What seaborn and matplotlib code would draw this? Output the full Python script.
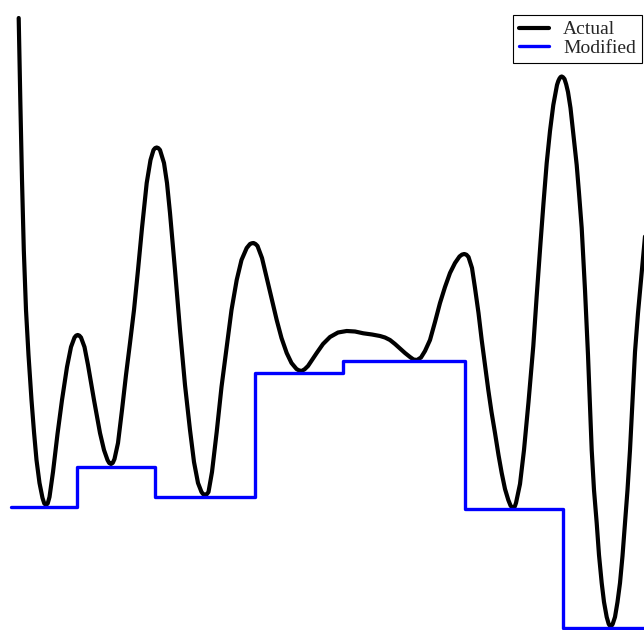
import matplotlib
matplotlib.use("Agg")
import matplotlib.pyplot as plt
import seaborn as sns

# Actual signal: sampled positions and values
x_actual = [
    18.7, 20.3, 22, 23.8, 26, 28.5, 31.5, 34, 36.5, 39.5, 42.5, 44.3, 46,
    47.7, 49.5, 53, 57.5, 62, 67, 71, 74.5, 76.1, 77.7,
    79.3, 81, 84.5, 88, 94, 100, 104, 107.5, 109.2, 111,
    112.8, 114.5, 118, 122, 126, 130, 134, 138, 142, 146.7, 150.5, 153.5,
    155.1, 156.7,
    158.3, 160, 164, 167, 170, 175, 180, 185, 190, 194, 198, 201.5, 203.2,
    205,
    206.8, 208.5, 212, 216.7, 221.5, 226.7, 231.5, 236.7, 241.5, 246.7, 250,
    251.7, 253.5,
    255.5, 257.5, 262, 266.7, 271.5, 276.7, 281.5, 286.7, 291.5, 296.5, 299,
    301.7,
    304.7, 308, 316.7, 323, 330, 338, 346.7, 355, 363.3, 372, 380, 385, 390,
    395, 400, 405, 410, 413.5, 417,
    421, 425, 430, 435, 440, 445, 450, 455, 459.5, 462, 464.3,
    466.4, 468.5, 472, 475, 478.5, 481.7, 485, 488.3, 491.5, 495, 498.5,
    501.7, 505, 508.3, 510.5, 511.9, 513.3,
    514.7, 516, 520, 524, 528.5, 533.3, 536.7, 540.5, 543.5, 546.7, 550,
    553.3, 557, 558.3, 559.5, 560.6, 561.7,
    563, 564.5, 566.2, 568, 570.5, 573, 576.7, 579, 581.7, 585, 588, 591.7,
    594, 596.7, 599, 601.7, 604, 606.7, 608.7, 609.7, 610.7,
    611.7, 612.7, 615, 617.5, 620, 622.5, 625, 627.5, 630, 632.5, 635, 638,
    641, 644, 648,
]
y_actual = [
    612, 530, 450, 380, 320, 275, 230, 198, 170, 147, 132, 126.5, 125,
    126.5, 133, 158, 196, 230, 263, 283, 292.5, 294.4, 295,
    294.4, 292.5, 283, 265, 230, 197, 180, 170, 167, 166,
    167.2, 171, 187, 220, 255, 287, 320, 360, 402, 447, 470, 480,
    481.9, 482.5,
    481.9, 480, 467, 447, 417, 360, 300, 245, 200, 168, 147, 138, 135.8,
    135,
    135.8, 138, 158, 198, 243, 283, 320, 350, 370, 382, 386,
    386.7, 387,
    386, 384, 372, 352, 332, 310, 292, 277, 267, 261, 259.6,
    259,
    260.8, 264, 277, 286, 293, 297.5, 299, 298.5, 296.7, 295.5, 294, 292.5,
    290, 286, 281.5, 277, 273, 270.5, 270,
    272.5, 279, 290, 308, 327, 343, 357, 367, 373.5, 375.4, 376,
    375.3, 373, 362, 342, 317, 290, 265, 240, 218, 197, 175,
    157, 141, 130, 124.5, 122.8, 122,
    123.3, 127, 146, 180, 228, 284, 334, 387, 427, 467, 499,
    525, 545, 549, 551.5, 553, 553.5,
    552.8, 551, 545.6, 538, 522, 499, 465, 437, 402, 340, 275, 180,
    140, 107, 75, 47, 28, 13, 6, 4.5, 4,
    4.5, 6, 13, 28, 47, 74, 107, 140, 180, 230, 278, 317,
    350, 383, 425,
]

# Modified signal: piecewise-constant levels and the positions where they start
x_modified = [11, 77.3, 155.3, 254.7, 342.7, 465, 562.7, 650]
y_modified = [123, 163, 133.5, 257.3, 269, 121.5, 2, 2]

sns.set_style("white")

fig = plt.figure(figsize=(6.44, 6.30), dpi=100)
ax = fig.add_axes([0, 0, 1, 1])

sns.lineplot(x=x_actual, y=y_actual, color="black", linewidth=3.0,
             label="Actual", estimator=None, sort=False, ax=ax)
sns.lineplot(x=x_modified, y=y_modified, color="blue", linewidth=2.4,
             drawstyle="steps-post", label="Modified", estimator=None,
             sort=False, ax=ax)

ax.set_xlim(0, 644)
ax.set_ylim(0, 630)
ax.axis("off")

leg = ax.legend(loc="upper right", bbox_to_anchor=(642 / 644, 615 / 630),
                borderaxespad=0,
                prop={"family": "Liberation Serif", "size": 14},
                frameon=True, fancybox=False, edgecolor="black",
                framealpha=1, labelspacing=0.05, handlelength=1.55,
                handletextpad=0.75, borderpad=0.3)
leg.get_frame().set_linewidth(0.8)

fig.savefig("out.png", dpi=100)
